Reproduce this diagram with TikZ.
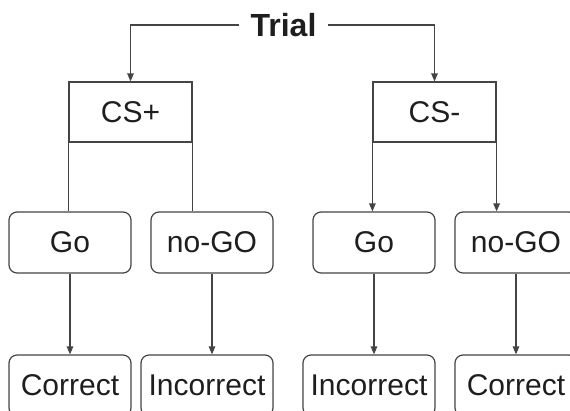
\documentclass[tikz,border=0pt]{standalone}
\usepackage{fontspec}
\setmainfont{Liberation Sans}
\usetikzlibrary{arrows.meta, positioning}
\definecolor{linegray}{RGB}{68,68,68}
\definecolor{textgray}{RGB}{30,30,30}

\begin{document}
\begin{tikzpicture}[
            x=1pt, y=-1pt,
            lbl/.style={text=textgray, font=\fontsize{30}{36}\selectfont},
            head/.style={draw=linegray, line width=1.2pt, lbl, minimum width=123pt, minimum height=60pt, inner sep=0pt},
            box/.style={draw=linegray, line width=1.2pt, rounded corners=8pt, lbl, minimum height=61pt, inner sep=0pt},
            ln/.style={draw=linegray, line width=1.2pt},
            arr/.style={ln, -{Triangle[length=8pt, width=6.5pt]}}
        ]
            \clip (0,0) rectangle (570,410);

            \node[text=textgray, font=\bfseries\fontsize{32}{38}\selectfont, inner sep=11pt] (trial) at (283.5,25) {Trial};

            \node[head] (csp) at (130.5,112) {CS+};
            \node[head] (csm) at (434.5,112) {CS-};

            \node[box, minimum width=122pt] (go1) at (70,242.5) {Go};
            \node[box, minimum width=122pt] (nogo1) at (212,242.5) {no-GO};
            \node[box, minimum width=122pt] (go2) at (374,242.5) {Go};
            \node[box, minimum width=122pt] (nogo2) at (516,242.5) {no-GO};

            \node[box, minimum width=122pt] (cor1) at (70,385.5) {Correct};
            \node[box, minimum width=132pt] (inc1) at (207,385.5) {Incorrect};
            \node[box, minimum width=132pt] (inc2) at (369,385.5) {Incorrect};
            \node[box, minimum width=122pt] (cor2) at (516,385.5) {Correct};

            \draw[arr] (trial.west) -| (csp.north);
            \draw[arr] (trial.east) -| (csm.north);

            \draw[ln] (csp.south west) -- (csp.south west |- go1.north);
            \draw[ln] (csp.south east) -- (csp.south east |- nogo1.north);
            \draw[arr] (csm.south west) -- (csm.south west |- go2.north);
            \draw[arr] (csm.south east) -- (csm.south east |- nogo2.north);

            \draw[arr] (go1) -- (cor1);
            \draw[arr] (nogo1.south) -- (nogo1.south |- inc1.north);
            \draw[arr] (go2.south) -- (go2.south |- inc2.north);
            \draw[arr] (nogo2) -- (cor2);
        \end{tikzpicture}
\end{document}
